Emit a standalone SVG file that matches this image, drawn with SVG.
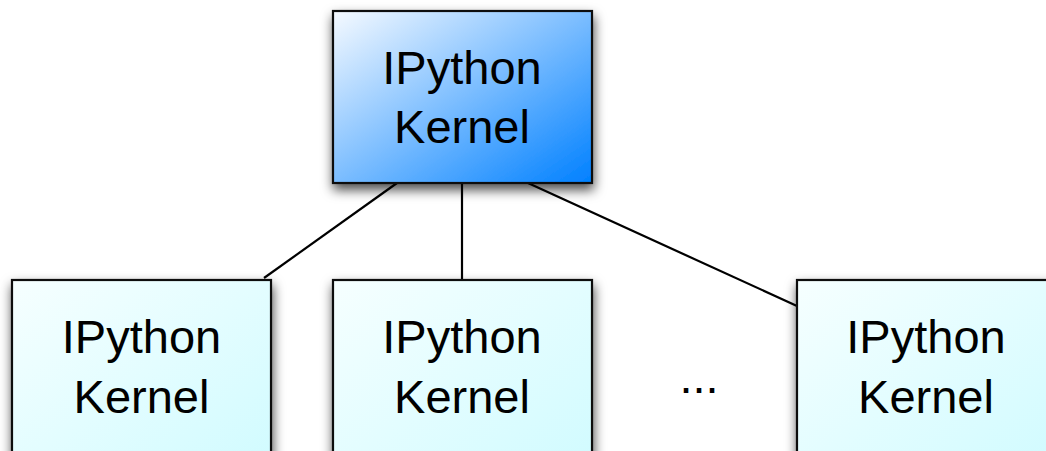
<svg xmlns="http://www.w3.org/2000/svg" width="1046" height="451" viewBox="0 0 1046 451">
  <defs>
    <linearGradient id="gTop" x1="0" y1="0" x2="1" y2="1">
      <stop offset="0" stop-color="#f6faff"/>
      <stop offset="1" stop-color="#0080ff"/>
    </linearGradient>
    <linearGradient id="gBot" x1="0" y1="0" x2="1" y2="1">
      <stop offset="0" stop-color="#f6ffff"/>
      <stop offset="1" stop-color="#d0fbff"/>
    </linearGradient>
    <filter id="shadow" x="-20%" y="-20%" width="140%" height="150%">
      <feDropShadow dx="1" dy="6" stdDeviation="6" flood-color="#000" flood-opacity="0.7"/>
    </filter>
  </defs>
  <style>
    .box { stroke: #111; stroke-width: 2.2; filter: url(#shadow); }
    .lbl { font-family: "Liberation Sans", Arial, sans-serif; font-size: 47px; fill: #000; text-anchor: middle; }
    .conn { stroke: #000; stroke-width: 2.2; fill: none; }
  </style>
  <rect width="1046" height="451" fill="#fff"/>
  <g id="connectors">
    <line class="conn" x1="397" y1="183" x2="264" y2="278"/>
    <line class="conn" x1="462" y1="183" x2="462" y2="280"/>
    <line class="conn" x1="528" y1="183" x2="797" y2="306"/>
  </g>
  <g id="top-kernel">
    <rect class="box" x="333" y="11" width="259" height="172" fill="url(#gTop)"/>
    <text class="lbl" x="462" y="84">IPython</text>
    <text class="lbl" x="462" y="143">Kernel</text>
  </g>
  <g id="kernel-1">
    <rect class="box" x="12" y="280" width="259" height="190" fill="url(#gBot)"/>
    <text class="lbl" x="141.5" y="353">IPython</text>
    <text class="lbl" x="141.5" y="413">Kernel</text>
  </g>
  <g id="kernel-2">
    <rect class="box" x="333" y="280" width="259" height="190" fill="url(#gBot)"/>
    <text class="lbl" x="462" y="353">IPython</text>
    <text class="lbl" x="462" y="413">Kernel</text>
  </g>
  <g id="ellipsis">
    <text class="lbl" x="699" y="393">...</text>
  </g>
  <g id="kernel-3">
    <rect class="box" x="797" y="280" width="259" height="190" fill="url(#gBot)"/>
    <text class="lbl" x="926" y="353">IPython</text>
    <text class="lbl" x="926" y="413">Kernel</text>
  </g>
</svg>
